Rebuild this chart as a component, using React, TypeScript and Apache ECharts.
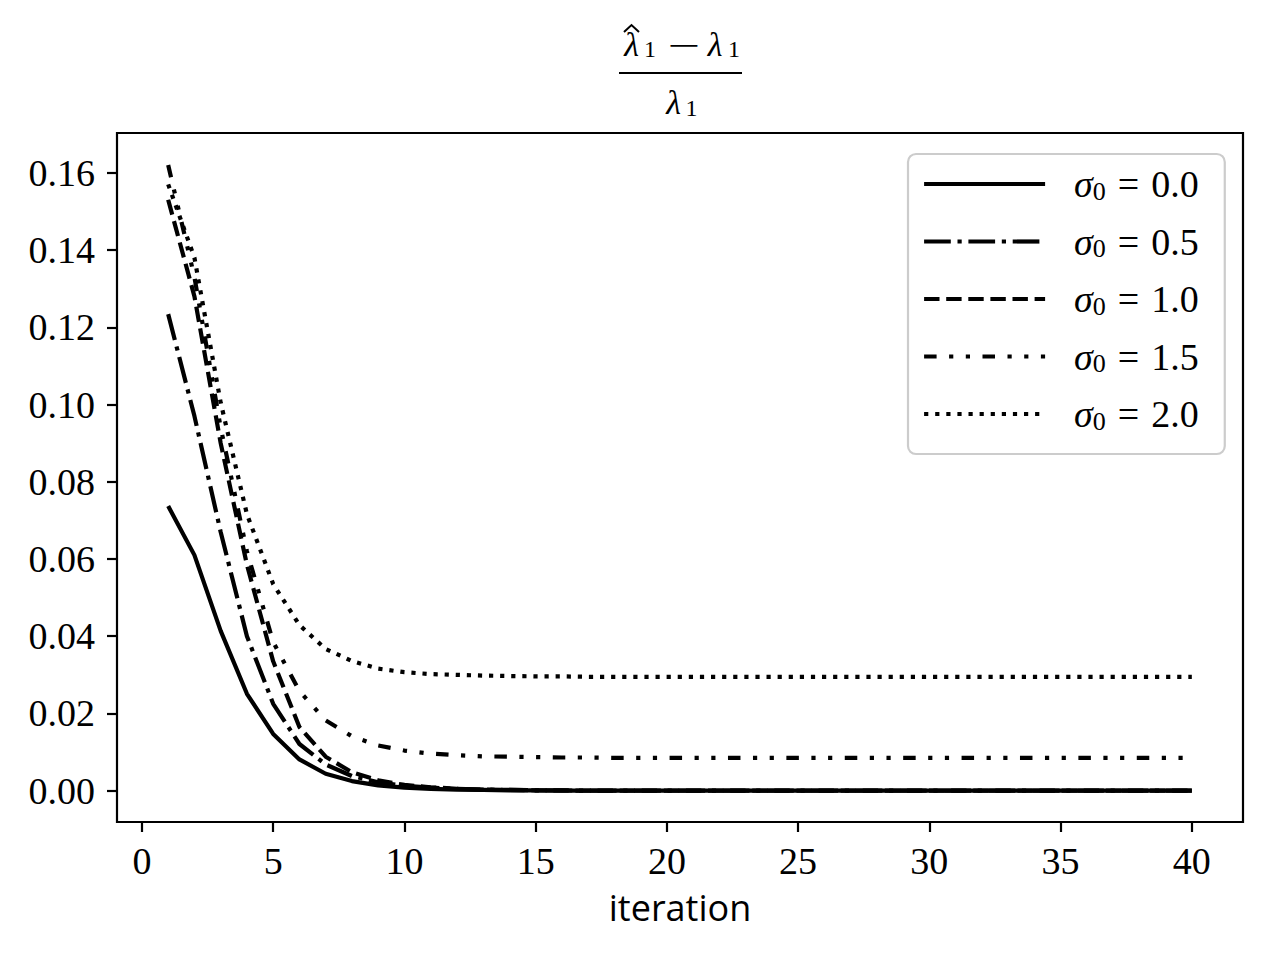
import React, { useEffect, useRef } from "react";
import * as echarts from "echarts";

const iterations = [
  1, 2, 3, 4, 5, 6, 7, 8, 9, 10, 11, 12, 13, 14, 15, 16, 17, 18, 19, 20,
  21, 22, 23, 24, 25, 26, 27, 28, 29, 30, 31, 32, 33, 34, 35, 36, 37, 38, 39, 40,
];

const sigma00 = [
  0.0737, 0.061, 0.0414, 0.0251, 0.0147, 0.0081, 0.0044, 0.0025, 0.0014, 0.0008,
  0.0005, 0.0003, 0.0002, 0.0001, 0.0001, 0, 0, 0, 0, 0,
  0, 0, 0, 0, 0, 0, 0, 0, 0, 0,
  0, 0, 0, 0, 0, 0, 0, 0, 0, 0,
];

const sigma05 = [
  0.1234, 0.097, 0.067, 0.04, 0.0225, 0.0121, 0.0068, 0.0038, 0.0022, 0.0013,
  0.0008, 0.0005, 0.0003, 0.0002, 0.0001, 0.0001, 0, 0, 0, 0,
  0, 0, 0, 0, 0, 0, 0, 0, 0, 0,
  0, 0, 0, 0, 0, 0, 0, 0, 0, 0,
];

const sigma10 = [
  0.153, 0.128, 0.09, 0.0585, 0.0335, 0.0165, 0.0088, 0.0048, 0.0027, 0.0015,
  0.0009, 0.0005, 0.0003, 0.0002, 0.0001, 0.0001, 0, 0, 0, 0,
  0, 0, 0, 0, 0, 0, 0, 0, 0, 0,
  0, 0, 0, 0, 0, 0, 0, 0, 0, 0,
];

const sigma15 = [
  0.162, 0.133, 0.094, 0.062, 0.0385, 0.0258, 0.0182, 0.0141, 0.0117, 0.0104,
  0.0096, 0.0092, 0.0089, 0.0088, 0.0087, 0.0086, 0.0086, 0.0085, 0.0085, 0.0085,
  0.0085, 0.0085, 0.0085, 0.0085, 0.0085, 0.0085, 0.0085, 0.0085, 0.0085, 0.0085,
  0.0085, 0.0085, 0.0085, 0.0085, 0.0085, 0.0085, 0.0085, 0.0085, 0.0085, 0.0085,
];

const sigma20 = [
  0.157, 0.138, 0.1005, 0.0716, 0.0535, 0.0429, 0.0367, 0.0336, 0.0316, 0.0307,
  0.0302, 0.03, 0.0298, 0.0297, 0.0296, 0.0296, 0.0295, 0.0295, 0.0295, 0.0295,
  0.0295, 0.0295, 0.0295, 0.0295, 0.0295, 0.0295, 0.0295, 0.0295, 0.0295, 0.0295,
  0.0295, 0.0295, 0.0295, 0.0295, 0.0295, 0.0295, 0.0295, 0.0295, 0.0295, 0.0295,
];

const legendLabels = ["0.0", "0.5", "1.0", "1.5", "2.0"];
const xTicks = [0, 5, 10, 15, 20, 25, 30, 35, 40];
const yTicks = [0, 0.02, 0.04, 0.06, 0.08, 0.1, 0.12, 0.14, 0.16];

const SERIF = "'Liberation Serif', 'DejaVu Serif', serif";
const SANS = "'Open Sans', 'Noto Sans', sans-serif";

export default function App() {
  const ref = useRef<HTMLDivElement>(null);

  useEffect(() => {
    if (!ref.current) return;
    const chart = echarts.init(ref.current, null, { renderer: "svg" });

    const seriesValues = [sigma00, sigma05, sigma10, sigma15, sigma20];
    const dashes: any[] = [
      "solid",
      [26.7, 6.7, 4.2, 6.7],
      [15.4, 6.7],
      [12.5, 12.5, 4.2, 12.5, 4.2, 12.5],
      [4.2, 6.9],
    ];

    const series = seriesValues.map((vals, k) => ({
      name: legendLabels[k],
      type: "line",
      data: iterations.map((x, i) => [x, vals[i]]),
      symbol: "none",
      showSymbol: false,
      z: 10 - k,
      lineStyle: {
        color: "#000",
        width: 4.2,
        type: dashes[k],
        cap: "butt",
        join: "round",
      },
      itemStyle: { color: "#000" },
      emphasis: { disabled: true },
    }));

    const titleFont = (size: number, italic = false) =>
      `${italic ? "italic " : ""}${size}px ${SERIF}`;

    chart.setOption({
      animation: false,
      backgroundColor: "#fff",
      grid: {
        left: 117,
        top: 133,
        right: 37,
        bottom: 138,
        show: true,
        borderColor: "#000",
        borderWidth: 2.2,
        backgroundColor: "transparent",
      },
      xAxis: {
        type: "value",
        min: -0.95,
        max: 41.95,
        axisLine: { show: false, onZero: false },
        splitLine: { show: false },
        axisTick: {
          show: true,
          length: 10,
          customValues: xTicks,
          lineStyle: { color: "#000", width: 2.2 },
        },
        axisLabel: {
          customValues: xTicks,
          color: "#000",
          fontFamily: SERIF,
          fontSize: 38,
          margin: 20,
          formatter: (v: number) => String(v),
        },
        name: "iteration",
        nameLocation: "middle",
        nameGap: 67,
        nameTextStyle: { color: "#000", fontFamily: SANS, fontSize: 36 },
      },
      yAxis: {
        type: "value",
        min: -0.0081,
        max: 0.1703,
        axisLine: { show: false, onZero: false },
        splitLine: { show: false },
        axisTick: {
          show: true,
          length: 10,
          customValues: yTicks,
          lineStyle: { color: "#000", width: 2.2 },
        },
        axisLabel: {
          customValues: yTicks,
          color: "#000",
          fontFamily: SERIF,
          fontSize: 38,
          margin: 22,
          formatter: (v: number) => v.toFixed(2),
        },
      },
      legend: {
        orient: "vertical",
        left: 908,
        top: 154,
        itemWidth: 121,
        itemHeight: 20,
        itemGap: 18.5,
        padding: [11, 26, 20, 14],
        backgroundColor: "rgba(255,255,255,0.8)",
        borderColor: "#cccccc",
        borderWidth: 2.2,
        borderRadius: 8,
        selectedMode: false,
        lineStyle: { width: 4.2 },
        itemStyle: { opacity: 0, color: "rgba(0,0,0,0)", borderWidth: 0 },
        data: legendLabels,
        formatter: (name: string) => `{s|σ}{sub|0}{eq|=}{t|${name}}`,
        textStyle: {
          color: "#000",
          fontFamily: SERIF,
          fontSize: 38,
          rich: {
            s: {
              fontFamily: SERIF,
              fontStyle: "italic",
              fontSize: 38,
              lineHeight: 40,
              padding: [0, 0, 0, 24],
            },
            sub: {
              fontFamily: SERIF,
              fontSize: 26,
              lineHeight: 22,
              verticalAlign: "bottom",
            },
            eq: {
              fontFamily: SERIF,
              fontSize: 38,
              lineHeight: 40,
              padding: [0, 12, 0, 12],
            },
            t: { fontFamily: SERIF, fontSize: 38, lineHeight: 40 },
          },
        },
      },
      graphic: [
        {
          type: "polyline",
          shape: { points: [[624, 32], [631.5, 25], [639, 32]] },
          style: { stroke: "#000", lineWidth: 2, fill: "none" },
        },
        {
          type: "text",
          style: {
            text: "λ",
            x: 631.5,
            y: 44.5,
            font: titleFont(34, true),
            fill: "#000",
            align: "center",
            verticalAlign: "middle",
          },
        },
        {
          type: "text",
          style: {
            text: "1",
            x: 650,
            y: 48.5,
            font: titleFont(24),
            fill: "#000",
            align: "center",
            verticalAlign: "middle",
          },
        },
        {
          type: "text",
          x: 683.5,
          y: 46,
          scaleX: 1.7,
          style: {
            text: "−",
            x: 0,
            y: 0,
            font: titleFont(34),
            fill: "#000",
            align: "center",
            verticalAlign: "middle",
          },
        },
        {
          type: "text",
          style: {
            text: "λ",
            x: 715,
            y: 44.5,
            font: titleFont(34, true),
            fill: "#000",
            align: "center",
            verticalAlign: "middle",
          },
        },
        {
          type: "text",
          style: {
            text: "1",
            x: 734,
            y: 48.5,
            font: titleFont(24),
            fill: "#000",
            align: "center",
            verticalAlign: "middle",
          },
        },
        {
          type: "line",
          shape: { x1: 619, y1: 73, x2: 742, y2: 73 },
          style: { stroke: "#000", lineWidth: 2.2 },
        },
        {
          type: "text",
          style: {
            text: "λ",
            x: 673.5,
            y: 102.5,
            font: titleFont(34, true),
            fill: "#000",
            align: "center",
            verticalAlign: "middle",
          },
        },
        {
          type: "text",
          style: {
            text: "1",
            x: 691.5,
            y: 107.5,
            font: titleFont(24),
            fill: "#000",
            align: "center",
            verticalAlign: "middle",
          },
        },
      ],
      series,
    });

    return () => chart.dispose();
  }, []);

  return (
    <div
      ref={ref}
      style={{ position: "fixed", left: 0, top: 0, width: 1280, height: 960 }}
    />
  );
}
